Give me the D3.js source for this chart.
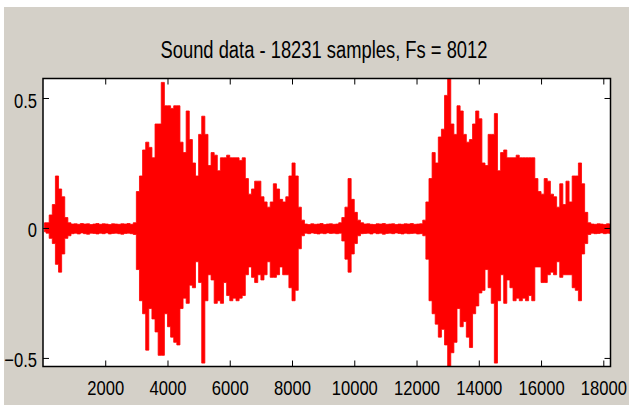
<!DOCTYPE html>
<html>
<head>
<meta charset="utf-8">
<script src="https://cdn.jsdelivr.net/npm/d3@7/dist/d3.min.js"></script>
<style>
  body { margin: 0; background: #fff; }
  svg { display: block; }
</style>
</head>
<body>
<div id="chart"></div>
<script>
var nSamples = 18231;
var fs = 8012;
var binSize = 100;

var upperEnv = [
  // 0 - 2900
  0.02, 0.02, 0.05, 0.09, 0.20, 0.15, 0.12, 0.04, 0.02, 0.015,
  0.016, 0.014, 0.017, 0.015, 0.016, 0.013, 0.015, 0.017, 0.014, 0.016,
  0.015, 0.013, 0.016, 0.015, 0.014, 0.016, 0.015, 0.017, 0.014, 0.02,
  // 3000 - 5900
  0.14, 0.20, 0.30, 0.33, 0.31, 0.27, 0.40, 0.40, 0.56, 0.47,
  0.47, 0.46, 0.47, 0.47, 0.33, 0.29, 0.45, 0.34, 0.25, 0.20,
  0.36, 0.43, 0.36, 0.24, 0.29, 0.28, 0.22, 0.27, 0.27, 0.28,
  // 6000 - 8300
  0.27, 0.27, 0.27, 0.26, 0.27, 0.19, 0.13, 0.15, 0.18, 0.18,
  0.12, 0.10, 0.08, 0.10, 0.17, 0.15, 0.11, 0.10, 0.12, 0.20,
  0.25, 0.20, 0.08, 0.03,
  // 8400 - 9400
  0.015, 0.013, 0.016, 0.014, 0.015, 0.017, 0.013, 0.015, 0.016, 0.014, 0.015,
  // 9500 - 10200
  0.02, 0.04, 0.08, 0.19, 0.11, 0.06, 0.03, 0.02,
  // 10300 - 12100
  0.015, 0.016, 0.014, 0.013, 0.016, 0.015, 0.017, 0.014, 0.015, 0.016,
  0.013, 0.015, 0.014, 0.016, 0.015, 0.017, 0.014, 0.015, 0.016,
  // 12200 - 15400
  0.03, 0.10, 0.19, 0.29, 0.25, 0.35, 0.38, 0.51, 0.575, 0.40,
  0.36, 0.47, 0.45, 0.36, 0.33, 0.34, 0.40, 0.45, 0.42, 0.25,
  0.24, 0.36, 0.36, 0.44, 0.22, 0.29, 0.30, 0.27, 0.27, 0.27,
  0.28, 0.27, 0.27,
  // 15500 - 17500
  0.27, 0.27, 0.27, 0.19, 0.14, 0.13, 0.19, 0.18, 0.13, 0.12,
  0.08, 0.17, 0.09, 0.18, 0.10, 0.20, 0.20, 0.25, 0.17, 0.06,
  0.02,
  // 17600 - 18200
  0.015, 0.014, 0.016, 0.015, 0.013, 0.016, 0.015
];

var lowerEnv = [
  -0.015, -0.02, -0.04, -0.06, -0.14, -0.17, -0.10, -0.04, -0.03, -0.022,
  -0.02, -0.023, -0.019, -0.022, -0.024, -0.02, -0.021, -0.023, -0.02, -0.022,
  -0.019, -0.023, -0.021, -0.02, -0.022, -0.024, -0.021, -0.02, -0.022, -0.025,
  -0.16, -0.28, -0.33, -0.47, -0.31, -0.35, -0.40, -0.49, -0.49, -0.33,
  -0.38, -0.42, -0.44, -0.45, -0.31, -0.27, -0.29, -0.22, -0.23, -0.13,
  -0.21, -0.52, -0.28, -0.18, -0.20, -0.29, -0.28, -0.29, -0.21, -0.26,
  -0.28, -0.27, -0.28, -0.27, -0.26, -0.18, -0.15, -0.19, -0.21, -0.18,
  -0.20, -0.18, -0.13, -0.19, -0.19, -0.18, -0.15, -0.18, -0.18, -0.23,
  -0.28, -0.24, -0.08, -0.03,
  -0.02, -0.022, -0.019, -0.021, -0.023, -0.02, -0.022, -0.019, -0.021, -0.02, -0.022,
  -0.02, -0.05, -0.12, -0.17, -0.10, -0.06, -0.03, -0.022,
  -0.021, -0.02, -0.023, -0.019, -0.022, -0.02, -0.024, -0.021, -0.02, -0.022,
  -0.019, -0.021, -0.023, -0.02, -0.022, -0.021, -0.02, -0.023, -0.022,
  -0.03, -0.12, -0.28, -0.33, -0.37, -0.42, -0.39, -0.45, -0.533, -0.48,
  -0.44, -0.31, -0.38, -0.36, -0.42, -0.46, -0.33, -0.30, -0.25, -0.24,
  -0.16, -0.23, -0.29, -0.52, -0.28, -0.18, -0.29, -0.20, -0.23, -0.28,
  -0.27, -0.28, -0.27,
  -0.28, -0.26, -0.28, -0.15, -0.15, -0.21, -0.21, -0.18, -0.17, -0.18,
  -0.13, -0.19, -0.18, -0.18, -0.18, -0.23, -0.24, -0.28, -0.10, -0.06,
  -0.025,
  -0.02, -0.022, -0.021, -0.019, -0.022, -0.02, -0.021
];

var xTicks = [2000, 4000, 6000, 8000, 10000, 12000, 14000, 16000, 18000];
var yTicks = [-0.5, 0, 0.5];
var titleText = "Sound data - " + nSamples + " samples, Fs = " + fs;

var width = 629, height = 405;
var plot = {left: 43, right: 610.5, top: 78.5, bottom: 366.5};
var squeeze = 0.79;   // the screenshot fonts are narrow

var svg = d3.select("#chart").append("svg")
    .attr("width", width)
    .attr("height", height);

// window background
svg.append("rect").attr("width", width).attr("height", height).attr("fill", "#fff");
svg.append("rect").attr("x", 4).attr("y", 7)
    .attr("width", width - 4).attr("height", height - 7)
    .attr("fill", "#d4d0c8");

var x = d3.scaleLinear().domain([1, nSamples]).range([plot.left, plot.right]);
var y = d3.scaleLinear()
    .domain([d3.min(lowerEnv), d3.max(upperEnv)])
    .range([plot.bottom, plot.top]);

svg.append("rect")
    .attr("x", plot.left).attr("y", plot.top)
    .attr("width", plot.right - plot.left).attr("height", plot.bottom - plot.top)
    .attr("fill", "#fff");

svg.append("clipPath").attr("id", "clip")
  .append("rect")
    .attr("x", plot.left).attr("y", plot.top)
    .attr("width", plot.right - plot.left).attr("height", plot.bottom - plot.top);

// one entry per block: centre sample, max, min
var blocks = upperEnv.map(function(v, k){
    return {s: Math.min(k * binSize + binSize / 2, nSamples), hi: v, lo: lowerEnv[k]};
});

var area = d3.area()
    .curve(d3.curveStep)
    .x(function(d){ return x(d.s); })
    .y0(function(d){ return y(d.lo); })
    .y1(function(d){ return y(d.hi); });

svg.append("path")
    .datum(blocks)
    .attr("clip-path", "url(#clip)")
    .attr("fill", "#ff0000")
    .attr("stroke", "#ff0000")
    .attr("stroke-width", 0.8)
    .attr("d", area);

// axes, ticks pointing inward on all four sides
var fontFam = "'Liberation Sans', Arial, sans-serif";

var gx = svg.append("g")
    .attr("transform", "translate(0," + plot.bottom + ")")
    .call(d3.axisBottom(x).tickValues(xTicks).tickSizeInner(-6).tickSizeOuter(0).tickFormat(d3.format("d")));
gx.selectAll("text")
    .attr("y", 28.5).attr("dy", null)
    .attr("transform", "scale(" + squeeze + ",1)");

svg.append("g")
    .attr("transform", "translate(0," + plot.top + ")")
    .call(d3.axisTop(x).tickValues(xTicks).tickSizeInner(-6).tickSizeOuter(0).tickFormat(""));

var gy = svg.append("g")
    .attr("transform", "translate(" + plot.left + ",0)")
    .call(d3.axisLeft(y).tickValues(yTicks).tickSizeInner(-6).tickSizeOuter(0).tickFormat(d3.format("")));
gy.selectAll("text")
    .attr("x", -6 / squeeze).attr("dy", null).attr("y", 9)
    .attr("transform", "scale(" + squeeze + ",1)");

svg.append("g")
    .attr("transform", "translate(" + plot.right + ",0)")
    .call(d3.axisRight(y).tickValues(yTicks).tickSizeInner(-6).tickSizeOuter(0).tickFormat(""));

svg.selectAll(".domain").remove();
svg.selectAll(".tick line").attr("stroke", "#000").attr("stroke-width", 1);
svg.selectAll(".tick text")
    .attr("fill", "#000")
    .style("font-family", fontFam)
    .style("font-size", "21px");

// box
svg.append("rect")
    .attr("x", plot.left).attr("y", plot.top)
    .attr("width", plot.right - plot.left).attr("height", plot.bottom - plot.top)
    .attr("fill", "none")
    .attr("stroke", "#000")
    .attr("stroke-width", 1.5);

// title
svg.append("text")
    .attr("x", 324).attr("y", 58)
    .attr("text-anchor", "middle")
    .attr("textLength", 327)
    .attr("lengthAdjust", "spacingAndGlyphs")
    .style("font-family", fontFam)
    .style("font-size", "23px")
    .attr("fill", "#000")
    .text(titleText);
</script>
</body>
</html>
